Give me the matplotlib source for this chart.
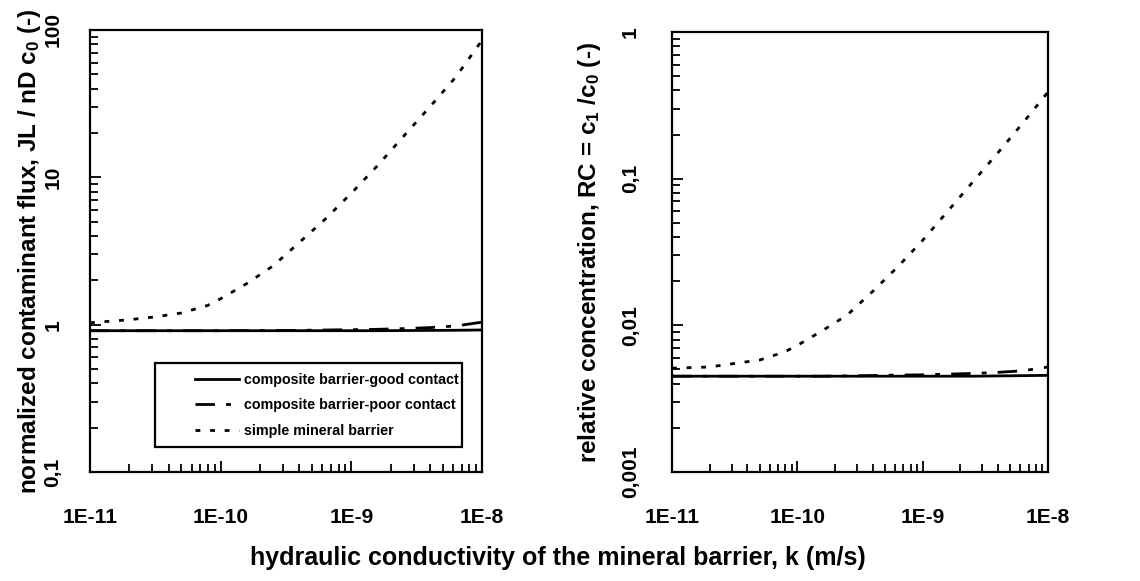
import numpy as np
import matplotlib
matplotlib.use("Agg")
import matplotlib.pyplot as plt
from matplotlib.patches import Rectangle
from matplotlib.ticker import FixedLocator, LogLocator, NullFormatter

plt.rcParams['font.family'] = ['Liberation Sans', 'DejaVu Sans']
plt.rcParams['font.weight'] = 'bold'
plt.rcParams['axes.labelweight'] = 'bold'
plt.rcParams['mathtext.fontset'] = 'custom'
plt.rcParams['mathtext.rm'] = 'Liberation Sans:bold'
plt.rcParams['mathtext.it'] = 'Liberation Sans:bold'
plt.rcParams['mathtext.bf'] = 'Liberation Sans:bold'
plt.rcParams['mathtext.default'] = 'rm'
plt.rcParams['lines.scale_dashes'] = False

# hydraulic conductivity k (m/s), log10 grid
log_k = np.array([-11.0, -10.7, -10.5, -10.3, -10.1, -10.0, -9.8, -9.6,
                  -9.4, -9.2, -9.0, -8.8, -8.6, -8.4, -8.2, -8.0])
k = 10.0 ** log_k

# normalized contaminant flux JL / nD c0
flux_good = [0.91, 0.91, 0.91, 0.91, 0.91, 0.91, 0.91, 0.91,
             0.91, 0.91, 0.91, 0.91, 0.912, 0.914, 0.916, 0.92]
flux_poor = [0.91, 0.91, 0.91, 0.91, 0.91, 0.91, 0.912, 0.913,
             0.915, 0.92, 0.925, 0.93, 0.94, 0.955, 0.98, 1.04]
flux_simple = [1.03, 1.08, 1.13, 1.2, 1.35, 1.5, 1.9, 2.5,
               3.6, 5.2, 7.8, 12, 19, 30, 48, 85]

# relative concentration RC = c1 / c0
rc_good = [0.0045, 0.0045, 0.0045, 0.0045, 0.0045, 0.0045, 0.0045, 0.0045,
           0.0045, 0.0045, 0.0045, 0.0045, 0.0045, 0.00452, 0.00454, 0.00456]
rc_poor = [0.0045, 0.0045, 0.0045, 0.0045, 0.0045, 0.0045, 0.0045, 0.00452,
           0.00455, 0.00458, 0.0046, 0.00465, 0.0047, 0.00478, 0.0049, 0.0052]
rc_simple = [0.0051, 0.0052, 0.0055, 0.0058, 0.0066, 0.0073, 0.0092, 0.0118,
             0.017, 0.025, 0.038, 0.060, 0.095, 0.15, 0.24, 0.39]

labels = ['composite barrier-good contact',
          'composite barrier-poor contact',
          'simple mineral barrier']
x_ticks = [1e-11, 1e-10, 1e-9, 1e-8]
x_ticklabels = ['1E-11', '1E-10', '1E-9', '1E-8']

fig = plt.figure(figsize=(11.4, 5.81), dpi=100)
ax1 = fig.add_axes([0.0789, 0.1876, 0.3439, 0.7608])
ax2 = fig.add_axes([0.5895, 0.1876, 0.3298, 0.7573])


def draw(ax, good, poor, simple, ylim, yticks, yticklabels, ypad):
    ax.plot(k, good, color='black', lw=2.0, label=labels[0])
    ax.plot(k, poor, color='black', lw=2.0, dashes=(14, 8, 3.5, 8), label=labels[1])
    ax.plot(k, simple, color='black', lw=2.0, dashes=(3.5, 7), label=labels[2])
    ax.set_xscale('log')
    ax.set_yscale('log')
    ax.set_xlim(1e-11, 1e-8)
    ax.set_ylim(*ylim)
    ax.xaxis.set_major_locator(FixedLocator(x_ticks))
    ax.set_xticklabels(x_ticklabels)
    ax.xaxis.set_minor_locator(LogLocator(base=10, subs=np.arange(2, 10)))
    ax.xaxis.set_minor_formatter(NullFormatter())
    ax.yaxis.set_major_locator(FixedLocator(yticks))
    ax.set_yticklabels(yticklabels, rotation=90, va='center')
    ax.yaxis.set_minor_locator(LogLocator(base=10, subs=np.arange(2, 10)))
    ax.yaxis.set_minor_formatter(NullFormatter())
    ax.tick_params(which='both', direction='in', top=False, right=False,
                   width=1.3, labelsize=15)
    ax.tick_params(which='major', length=8)
    ax.tick_params(which='minor', length=6)
    ax.tick_params(axis='x', which='both', pad=26)
    ax.tick_params(axis='y', which='both', pad=ypad)
    for s in ax.spines.values():
        s.set_linewidth(1.6)


draw(ax1, flux_good, flux_poor, flux_simple, (0.1, 100),
     [0.1, 1, 10, 100], ['0,1', '1', '10', '100'], 20)
draw(ax2, rc_good, rc_poor, rc_simple, (0.001, 1),
     [0.001, 0.01, 0.1, 1], ['0,001', '0,01', '0,1', '1'], 23)

ax1.set_ylabel(r'normalized contaminant flux, JL / nD c$_0$ (-)', fontsize=17.5)
ax1.yaxis.set_label_coords(-0.12, 0.5)
ax2.set_ylabel(r'relative concentration, RC = c$_1$ /c$_0$ (-)', fontsize=17.5)
ax2.yaxis.set_label_coords(-0.183, 0.5)

# legend entries without frame, boxed by a plain rectangle
leg = ax1.legend(loc='upper left', bbox_to_anchor=(0.268, 0.224),
                 frameon=False, prop={'weight': 'bold', 'size': 10.3},
                 handlelength=3.1, handletextpad=0.35, labelspacing=0.8,
                 borderpad=0, borderaxespad=0)
ax1.add_patch(Rectangle((0.166, 0.057), 0.783, 0.19, transform=ax1.transAxes,
                        fill=False, edgecolor='black', lw=1.6, zorder=5))

fig.text(0.489, 0.04, 'hydraulic conductivity of the mineral barrier, k (m/s)',
         ha='center', va='center', fontsize=18, fontweight='bold')

fig.savefig('out.png', dpi=100)
